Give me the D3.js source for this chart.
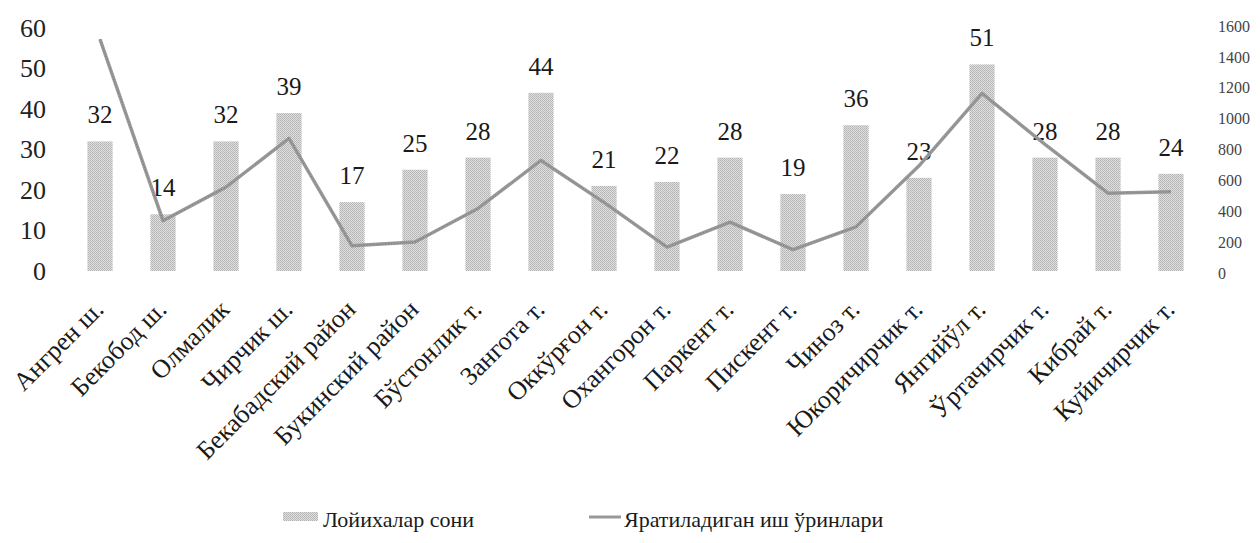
<!DOCTYPE html>
<html>
<head>
<meta charset="utf-8">
<script src="https://cdn.jsdelivr.net/npm/d3@7"></script>
<style>
  html, body { margin: 0; padding: 0; background: #fff; }
  svg { display: block; }
</style>
</head>
<body>
<svg id="chart" width="1260" height="543"></svg>
<script>
// Districts of the region
const districts = [
  "Ангрен ш.", "Бекобод ш.", "Олмалик", "Чирчик ш.", "Бекабадский район",
  "Букинский район", "Бўстонлик т.", "Зангота т.", "Оккўрғон т.", "Охангорон т.",
  "Паркент т.", "Пискент т.", "Чиноз т.", "Юкоричирчик т.", "Янгийўл т.",
  "Ўртачирчик т.", "Кибрай т.", "Куйичирчик т."
];
// Number of projects (left axis)
const projects = [32, 14, 32, 39, 17, 25, 28, 44, 21, 22, 28, 19, 36, 23, 51, 28, 28, 24];
// Jobs to be created (right axis)
const jobs = [1520, 330, 550, 870, 165, 190, 410, 725, 450, 157, 320, 140, 290, 690, 1165, 830, 510, 520];

const leftTicks = [0, 10, 20, 30, 40, 50, 60];
const rightTicks = [0, 200, 400, 600, 800, 1000, 1200, 1400, 1600];
const legendLabels = ["Лойихалар сони", "Яратиладиган иш ўринлари"];

const svg = d3.select("#chart");
const font = "'Liberation Serif', 'Times New Roman', serif";

const x = d3.scaleBand().domain(districts).range([68.5, 1202.5])
  .paddingInner(0.6).paddingOuter(0.3);
const yL = d3.scaleLinear().domain([0, 60]).range([271, 28]);
const yR = d3.scaleLinear().domain([0, 1600]).range([271, 27]);
const yRLabels = d3.scaleLinear().domain([0, 1600]).range([273, 26]);

// Dithered gray fill for the bars
const defs = svg.append("defs");
const pat = defs.append("pattern")
  .attr("id", "dots").attr("patternUnits", "userSpaceOnUse")
  .attr("width", 2).attr("height", 2);
pat.append("rect").attr("width", 2).attr("height", 2).attr("fill", "#e0e0e0");
pat.append("rect").attr("x", 0).attr("y", 0).attr("width", 1).attr("height", 1).attr("fill", "#b2b2b2");
pat.append("rect").attr("x", 1).attr("y", 1).attr("width", 1).attr("height", 1).attr("fill", "#bababa");

// Left axis
const axL = svg.append("g").attr("transform", "translate(46,0)")
  .call(d3.axisLeft(yL).tickValues(leftTicks).tickSize(0).tickPadding(0));
axL.select(".domain").remove();
axL.selectAll("text").attr("font-family", font).attr("font-size", 26).attr("fill", "#222");

// Right axis
const axR = svg.append("g").attr("transform", "translate(1218,0)")
  .call(d3.axisRight(yRLabels).tickValues(rightTicks).tickFormat(d3.format("d")).tickSize(0).tickPadding(0));
axR.select(".domain").remove();
axR.selectAll("text").attr("font-family", font).attr("font-size", 16).attr("fill", "#444");

// Bars
svg.append("g").selectAll("rect").data(districts).join("rect")
  .attr("x", d => x(d))
  .attr("y", (d, i) => yL(projects[i]))
  .attr("width", x.bandwidth())
  .attr("height", (d, i) => yL(0) - yL(projects[i]))
  .attr("fill", "url(#dots)");

// Bar value labels
svg.append("g").selectAll("text").data(districts).join("text")
  .attr("x", d => x(d) + x.bandwidth() / 2)
  .attr("y", (d, i) => yL(projects[i]) - 18)
  .attr("text-anchor", "middle")
  .attr("font-family", font).attr("font-size", 25).attr("fill", "#1a1a1a")
  .text((d, i) => projects[i]);

// Jobs line
const line = d3.line()
  .x((d, i) => x(districts[i]) + x.bandwidth() / 2)
  .y(d => yR(d));
svg.append("path").datum(jobs)
  .attr("d", line)
  .attr("fill", "none")
  .attr("stroke", "#999")
  .attr("stroke-width", 3.5)
  .attr("stroke-linejoin", "round");
svg.append("path").datum(jobs)
  .attr("d", line)
  .attr("fill", "none")
  .attr("stroke", "#7a7a7a")
  .attr("stroke-width", 1)
  .attr("stroke-dasharray", "1 2");

// Category labels, rotated
svg.append("g").selectAll("text").data(districts).join("text")
  .attr("transform", d => `translate(${x(d) + x.bandwidth() / 2 + 5},${311}) rotate(-45)`)
  .attr("text-anchor", "end")
  .attr("font-family", font).attr("font-size", 26).attr("fill", "#1a1a1a")
  .text(d => d);

// Legend
const lg = svg.append("g");
lg.append("rect").attr("x", 283).attr("y", 512).attr("width", 35).attr("height", 9).attr("fill", "url(#dots)");
lg.append("text").attr("x", 323).attr("y", 527)
  .attr("font-family", font).attr("font-size", 22).attr("fill", "#1a1a1a").text(legendLabels[0]);
lg.append("line").attr("x1", 589).attr("x2", 621).attr("y1", 517).attr("y2", 517)
  .attr("stroke", "#999").attr("stroke-width", 3);
lg.append("text").attr("x", 624).attr("y", 527)
  .attr("font-family", font).attr("font-size", 22).attr("fill", "#1a1a1a").text(legendLabels[1]);
</script>
</body>
</html>
